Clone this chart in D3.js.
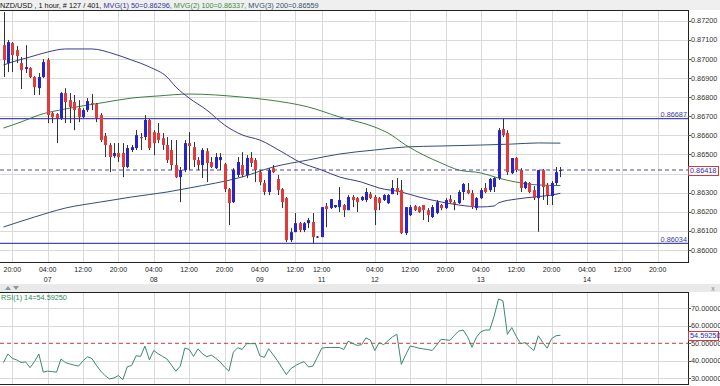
<!DOCTYPE html>
<html>
<head>
<meta charset="utf-8">
<script src="https://cdn.jsdelivr.net/npm/d3@7"></script>
<style>
  html, body { margin: 0; padding: 0; background: #fff; }
  svg { display: block; font-family: "Liberation Sans", Arial, sans-serif; }
</style>
</head>
<body>
<div id="chart"></div>
<script>
// NZD/USD 1 hour candles (index 0 = first visible bar)
const opens = [0.87072,0.86978,0.87083,0.87046,0.86978,0.86947,0.86952,0.86905,0.86847,0.86905,
  0.86994,0.86716,0.86711,0.86690,0.86821,0.86784,0.86774,0.86742,0.86695,0.86732,
  0.86769,0.86763,0.86706,0.86596,0.86549,0.86491,0.86507,0.86507,0.86434,0.86523,
  0.86533,0.86591,0.86591,0.86680,0.86617,0.86612,0.86585,0.86549,0.86523,0.86444,
  0.86381,0.86418,0.86559,0.86538,0.86470,0.86444,0.86517,0.86460,0.86428,0.86470,
  0.86449,0.86318,0.86250,0.86392,0.86444,0.86392,0.86481,0.86470,0.86407,0.86350,
  0.86303,0.86428,0.86371,0.86318,0.86271,0.86051,0.86093,0.86140,0.86104,0.86140,
  0.86146,0.86067,0.86067,0.86229,0.86219,0.86224,0.86224,0.86235,0.86208,0.86277,
  0.86271,0.86261,0.86261,0.86292,0.86277,0.86271,0.86261,0.86245,0.86292,0.86324,
  0.86313,0.86088,0.86182,0.86229,0.86224,0.86235,0.86208,0.86172,0.86193,0.86235,
  0.86219,0.86266,0.86250,0.86245,0.86303,0.86313,0.86297,0.86219,0.86271,0.86324,
  0.86313,0.86329,0.86376,0.86633,0.86612,0.86402,0.86481,0.86418,0.86324,0.86350,
  0.86313,0.86271,0.86418,0.86339,0.86282,0.86350,0.86413];
const highs = [0.87245,0.87099,0.87088,0.87067,0.87010,0.87072,0.86957,0.86910,0.86926,0.86999,
  0.87004,0.86722,0.86716,0.86826,0.86847,0.86821,0.86811,0.86784,0.86742,0.86795,
  0.86816,0.86769,0.86716,0.86612,0.86559,0.86559,0.86559,0.86559,0.86549,0.86549,
  0.86627,0.86612,0.86706,0.86685,0.86627,0.86664,0.86612,0.86591,0.86575,0.86575,
  0.86434,0.86575,0.86617,0.86565,0.86486,0.86533,0.86533,0.86486,0.86507,0.86507,
  0.86455,0.86324,0.86428,0.86486,0.86512,0.86496,0.86512,0.86481,0.86418,0.86366,
  0.86428,0.86444,0.86392,0.86324,0.86277,0.86114,0.86193,0.86146,0.86146,0.86167,
  0.86193,0.86072,0.86224,0.86245,0.86266,0.86235,0.86329,0.86240,0.86287,0.86287,
  0.86277,0.86282,0.86324,0.86303,0.86287,0.86277,0.86292,0.86292,0.86366,0.86376,
  0.86366,0.86224,0.86235,0.86235,0.86229,0.86235,0.86219,0.86235,0.86261,0.86240,
  0.86271,0.86287,0.86261,0.86313,0.86350,0.86350,0.86313,0.86277,0.86324,0.86350,
  0.86376,0.86381,0.86638,0.86687,0.86627,0.86481,0.86486,0.86428,0.86360,0.86355,
  0.86334,0.86418,0.86423,0.86350,0.86360,0.86434,0.86434];
const lows = [0.86905,0.86931,0.86931,0.86978,0.86842,0.86926,0.86900,0.86811,0.86811,0.86900,
  0.86664,0.86664,0.86559,0.86680,0.86664,0.86664,0.86627,0.86669,0.86690,0.86722,
  0.86732,0.86669,0.86565,0.86486,0.86407,0.86481,0.86460,0.86381,0.86428,0.86512,
  0.86523,0.86523,0.86575,0.86523,0.86496,0.86559,0.86523,0.86455,0.86418,0.86376,
  0.86250,0.86407,0.86418,0.86434,0.86418,0.86376,0.86355,0.86428,0.86423,0.86418,
  0.86303,0.86130,0.86245,0.86381,0.86381,0.86376,0.86434,0.86355,0.86339,0.86287,
  0.86287,0.86402,0.86287,0.86219,0.86041,0.86041,0.86093,0.86093,0.86093,0.86114,
  0.86034,0.86062,0.86067,0.86119,0.86214,0.86219,0.86198,0.86172,0.86208,0.86224,
  0.86198,0.86256,0.86250,0.86266,0.86130,0.86208,0.86256,0.86240,0.86292,0.86287,
  0.86083,0.86078,0.86177,0.86203,0.86193,0.86156,0.86146,0.86167,0.86187,0.86208,
  0.86214,0.86245,0.86208,0.86240,0.86261,0.86292,0.86214,0.86208,0.86266,0.86297,
  0.86303,0.86303,0.86366,0.86591,0.86392,0.86397,0.86407,0.86303,0.86318,0.86297,
  0.86261,0.86095,0.86261,0.86235,0.86235,0.86339,0.86381];
const closes = [0.86994,0.87088,0.87020,0.87015,0.86941,0.86957,0.86905,0.86852,0.86905,0.86983,
  0.86706,0.86695,0.86690,0.86821,0.86774,0.86748,0.86732,0.86695,0.86732,0.86779,
  0.86763,0.86690,0.86575,0.86549,0.86486,0.86507,0.86486,0.86434,0.86533,0.86538,
  0.86601,0.86585,0.86680,0.86533,0.86559,0.86575,0.86549,0.86470,0.86444,0.86381,
  0.86418,0.86559,0.86544,0.86470,0.86444,0.86523,0.86455,0.86434,0.86486,0.86486,
  0.86318,0.86245,0.86418,0.86460,0.86392,0.86481,0.86455,0.86418,0.86355,0.86303,
  0.86418,0.86407,0.86313,0.86250,0.86051,0.86093,0.86140,0.86104,0.86140,0.86156,
  0.86067,0.86070,0.86224,0.86214,0.86266,0.86235,0.86261,0.86208,0.86277,0.86261,
  0.86250,0.86277,0.86303,0.86271,0.86208,0.86245,0.86287,0.86287,0.86324,0.86303,
  0.86088,0.86224,0.86224,0.86208,0.86198,0.86208,0.86182,0.86224,0.86250,0.86219,
  0.86261,0.86250,0.86240,0.86303,0.86345,0.86297,0.86224,0.86271,0.86313,0.86303,
  0.86371,0.86376,0.86627,0.86601,0.86407,0.86481,0.86418,0.86324,0.86355,0.86303,
  0.86271,0.86418,0.86329,0.86287,0.86350,0.86407,0.86418];

// moving averages, sampled at bar indices
const ma50Idx = [0,2,6,10,14,20,25,29,33,37,39,42,46,50,54,58,63,67,72,76,81,85,90,94,99,103,108,111,112,116,120,124,126];
const ma50Val = [0.86968,0.86984,0.87010,0.87036,0.87052,0.87052,0.87026,0.86994,0.86958,0.86905,0.86853,0.86795,0.86732,0.86654,0.86602,0.86575,0.86513,0.86460,0.86418,0.86382,0.86355,0.86324,0.86303,0.86277,0.86251,0.86235,0.86225,0.86230,0.86246,0.86266,0.86277,0.86287,0.86296];
const ma100Idx = [0,4,8,14,22,29,35,42,54,60,69,76,84,87,91,95,99,103,108,112,116,121,126];
const ma100Val = [0.86638,0.86670,0.86706,0.86738,0.86769,0.86795,0.86806,0.86816,0.86800,0.86785,0.86748,0.86696,0.86643,0.86612,0.86549,0.86497,0.86455,0.86418,0.86403,0.86376,0.86355,0.86340,0.86337];
const ma200Idx = [0,7,14,22,29,37,42,54,61,69,76,84,91,99,108,115,121,126];
const ma200Val = [0.86120,0.86172,0.86219,0.86251,0.86277,0.86303,0.86324,0.86382,0.86434,0.86471,0.86502,0.86523,0.86539,0.86544,0.86549,0.86554,0.86560,0.86559];

// RSI(14) per bar
const rsi = [39.0,43.9,41.4,40.5,39.0,39.4,36.1,39.5,43.9,33.5,
  34.1,33.8,33.5,41.0,39.0,38.2,37.5,37.0,40.0,42.3,
  41.3,37.5,34.1,31.5,29.6,30.2,31.6,29.2,36.6,37.4,
  42.9,42.5,48.4,40.6,45.9,44.0,42.5,41.0,37.5,34.1,
  37.0,47.2,46.5,42.5,46.8,44.0,42.3,43.3,41.5,39.4,
  36.5,34.1,44.9,47.5,46.5,49.8,49.8,49.8,42.9,41.9,
  46.9,43.5,40.0,36.0,32.1,35.5,37.2,38.5,39.5,36.5,
  37.0,42.0,47.2,47.6,47.6,47.6,47.6,46.5,51.2,50.0,
  48.8,49.2,53.1,51.8,45.9,50.4,49.2,51.5,53.7,55.1,
  38.0,43.5,48.4,47.9,47.2,46.8,46.4,45.9,49.0,52.3,
  52.0,51.7,54.5,57.0,57.6,53.7,47.8,53.5,56.6,57.6,
  57.6,65.5,75.3,74.3,55.1,59.0,54.0,49.8,50.4,48.0,
  45.9,54.3,50.5,47.2,52.7,54.3,54.5925];

// time axis
const tickIdx  = [2,10,18,26,34,42,50,58,66,72,84,92,100,108,116,124,132,140,148];
const tickTime = ["20:00","04:00","12:00","20:00","04:00","12:00","20:00","04:00","12:00","12:00","04:00","12:00","20:00","04:00","12:00","20:00","04:00","12:00","20:00"];
const tickDate = ["","07","","","08","","","09","","11","12","","","13","","","14","",""];

const priceTicks = [0.860,0.861,0.862,0.863,0.864,0.865,0.866,0.867,0.868,0.869,0.870,0.871,0.872];
const rsiTicks = [30,40,50,60,70];
const levels = [0.86687, 0.86034];
const lastPrice = 0.86418;
const rsiLevel = 50;

const W = 720, H = 386;
const R = 688;                 // right edge of plot panels
const main = { t: 10, b: 262 };
const low = { t: 292, b: 384 };
const fs = 7.3;

const x = d3.scaleLinear().domain([0, 148]).range([3.5, 3.5 + 4.42 * 148]);
const y = d3.scaleLinear().domain([0.860, 0.872]).range([249.9, 20.7]);
const ry = d3.scaleLinear().domain([30, 70]).range([378.3, 308.3]);
const fmt = d3.format(".5f");
const crisp = (v) => Math.round(v) + 0.5;

const svg = d3.select("#chart").append("svg").attr("width", W).attr("height", H);

// backgrounds
svg.append("rect").attr("width", W).attr("height", H).attr("fill", "#fff");
svg.append("rect").attr("width", W).attr("height", main.t).attr("fill", "#efefef");
svg.append("rect").attr("x", 0).attr("y", 284).attr("width", W).attr("height", 8).attr("fill", "#e9e9e9");

const defs = svg.append("defs");
defs.append("clipPath").attr("id", "clipMain").append("rect")
  .attr("x", 0).attr("y", main.t).attr("width", R).attr("height", main.b - main.t);
defs.append("clipPath").attr("id", "clipLow").append("rect")
  .attr("x", 0).attr("y", low.t).attr("width", R).attr("height", low.b - low.t);

// grid
const grid = svg.append("g").attr("stroke", "#dadada").attr("shape-rendering", "crispEdges");
[[main.t, main.b], [low.t, low.b]].forEach(([t0, b0]) => {
  grid.selectAll(null).data(tickIdx).join("line")
    .attr("x1", (d) => crisp(x(d))).attr("x2", (d) => crisp(x(d)))
    .attr("y1", t0).attr("y2", b0);
});
grid.selectAll(null).data(priceTicks).join("line")
  .attr("x1", 0).attr("x2", R).attr("y1", (d) => crisp(y(d))).attr("y2", (d) => crisp(y(d)));
grid.selectAll(null).data(rsiTicks.filter((d) => d !== rsiLevel)).join("line")
  .attr("x1", 0).attr("x2", R).attr("y1", (d) => crisp(ry(d))).attr("y2", (d) => crisp(ry(d)));

const gm = svg.append("g").attr("clip-path", "url(#clipMain)");

// moving averages
const maLine = d3.line().x((d) => x(d[0])).y((d) => y(d[1])).curve(d3.curveMonotoneX);
[[ma200Idx, ma200Val, "#34506e"], [ma100Idx, ma100Val, "#3f7d3f"], [ma50Idx, ma50Val, "#3a3a8e"]]
  .forEach(([idx, val, col]) => {
    gm.append("path").attr("d", maLine(d3.zip(idx, val)))
      .attr("fill", "none").attr("stroke", col).attr("stroke-width", 1);
  });

// level lines
gm.selectAll(null).data(levels).join("line")
  .attr("x1", 0).attr("x2", R).attr("y1", (d) => y(d)).attr("y2", (d) => y(d))
  .attr("stroke", "#4a4aa6").attr("stroke-width", 1.3);
gm.append("line").attr("x1", 0).attr("x2", R).attr("y1", y(lastPrice)).attr("y2", y(lastPrice))
  .attr("stroke", "#4a4aa6").attr("stroke-width", 1.1).attr("stroke-dasharray", "4 3");

// candles
const bars = d3.range(opens.length);
gm.selectAll("line.wick").data(bars).join("line").attr("class", "wick")
  .attr("x1", (i) => Math.round(x(i)) + 0.5).attr("x2", (i) => Math.round(x(i)) + 0.5)
  .attr("y1", (i) => y(highs[i])).attr("y2", (i) => y(lows[i]))
  .attr("stroke", "#333").attr("stroke-width", 1);
gm.selectAll("rect.body").data(bars).join("rect").attr("class", "body")
  .attr("x", (i) => Math.round(x(i)) - 1)
  .attr("width", 3)
  .attr("y", (i) => y(Math.max(opens[i], closes[i])))
  .attr("height", (i) => Math.max(1, Math.abs(y(opens[i]) - y(closes[i]))))
  .attr("fill", (i) => closes[i] < opens[i] ? "#e23a3a" : "#2525c8");

// level labels
svg.selectAll(null).data(levels).join("text")
  .attr("x", R - 1).attr("y", (d) => y(d) - 1.5).attr("text-anchor", "end")
  .attr("font-size", fs).attr("fill", "#3a3aa6").text(fmt);

// RSI
const gl = svg.append("g").attr("clip-path", "url(#clipLow)");
gl.append("line").attr("x1", 0).attr("x2", R).attr("y1", ry(rsiLevel)).attr("y2", ry(rsiLevel))
  .attr("stroke", "#d23a3a").attr("stroke-width", 1).attr("stroke-dasharray", "4 3");
gl.append("path").attr("d", d3.line().x((d, i) => x(i)).y((d) => ry(d))(rsi))
  .attr("fill", "none").attr("stroke", "#3a8a6c").attr("stroke-width", 1);

// frames
const frame = svg.append("g").attr("stroke", "#222").attr("shape-rendering", "crispEdges").attr("fill", "none");
frame.append("path").attr("d", `M0,${main.t + 0.5}H${R + 0.5}V${main.b + 0.5}H0`);
frame.append("path").attr("d", `M0,${low.t + 0.5}H${R + 0.5}V${low.b + 0.5}H0`);

// right axes
const ax = svg.append("g").attr("font-size", fs).attr("fill", "#333");
ax.selectAll(null).data(priceTicks).join("line")
  .attr("x1", R).attr("x2", R + 3).attr("y1", (d) => crisp(y(d))).attr("y2", (d) => crisp(y(d)))
  .attr("stroke", "#555");
ax.selectAll(null).data(priceTicks).join("text")
  .attr("x", R + 3).attr("y", (d) => y(d) + 2.6).text(fmt);
ax.selectAll(null).data(rsiTicks).join("line")
  .attr("x1", R).attr("x2", R + 3).attr("y1", (d) => crisp(ry(d))).attr("y2", (d) => crisp(ry(d)))
  .attr("stroke", "#555");
ax.selectAll(null).data(rsiTicks).join("text")
  .attr("x", R + 3).attr("y", (d) => ry(d) + 2.6).text((d) => d.toFixed(5));

// value boxes
function valueBox(yy, label) {
  svg.append("rect").attr("x", R + 0.5).attr("y", Math.round(yy - 4.5) + 0.5)
    .attr("width", 30).attr("height", 9).attr("fill", "#fff").attr("stroke", "#d23a3a");
  svg.append("text").attr("x", R + 2).attr("y", yy + 2.6).attr("font-size", fs)
    .attr("fill", "#2a2ab8").text(label);
}
valueBox(y(lastPrice), fmt(lastPrice));
valueBox(ry(rsi[rsi.length - 1]), rsi[rsi.length - 1].toFixed(5));

// time axis
const tx = svg.append("g").attr("font-size", 7).attr("fill", "#222").attr("text-anchor", "middle");
tx.selectAll(null).data(tickIdx).join("text")
  .attr("x", (d) => x(d)).attr("y", 271.5).text((d, i) => tickTime[i]);
tx.selectAll(null).data(tickIdx).join("text")
  .attr("x", (d) => x(d)).attr("y", 282).text((d, i) => tickDate[i]);

// header
const head = svg.append("text").attr("x", 0).attr("y", 8).attr("font-size", fs);
head.append("tspan").attr("fill", "#111").text("NZD/USD , 1 hour, # 127 / 401, ");
head.append("tspan").attr("fill", "#34349a").text(`MVG(1) 50=${fmt(ma50Val[ma50Val.length - 1])}, `);
head.append("tspan").attr("fill", "#3f8a3f").text(`MVG(2) 100=${fmt(ma100Val[ma100Val.length - 1])}, `);
head.append("tspan").attr("fill", "#34506e").text(`MVG(3) 200=${fmt(ma200Val[ma200Val.length - 1])}`);

// panel controls
svg.append("path").attr("d", "M5,290L8,286L11,290Z M13,286L19,286L16,290Z").attr("fill", "#8a97a8");
svg.append("text").attr("x", 713).attr("y", 290.5).attr("font-size", 7).attr("fill", "#888")
  .attr("text-anchor", "middle").text("x");

svg.append("text").attr("x", 1).attr("y", 299.5).attr("font-size", fs).attr("fill", "#2e8a5e")
  .text(`RSI(1) 14=${rsi[rsi.length - 1].toFixed(5)}`);
</script>
</body>
</html>
